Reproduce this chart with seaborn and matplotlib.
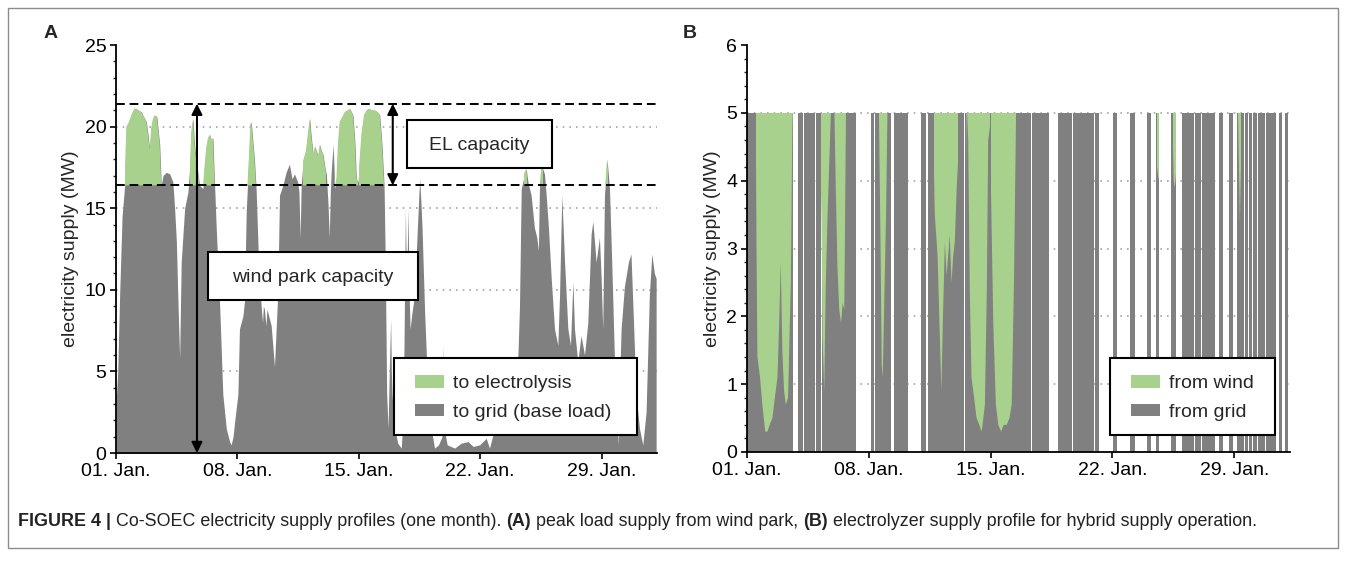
import numpy as np
import pandas as pd
import matplotlib
matplotlib.use("Agg")
import matplotlib.pyplot as plt
import seaborn as sns
from matplotlib.patches import Rectangle, Patch
from matplotlib.path import Path
from matplotlib.ticker import MultipleLocator, FixedLocator

# ---------------- data ----------------
# wind park output, panel A (day since 01. Jan 00:00, MW)
wind_day = [0.00, 0.10, 0.21, 0.35, 0.50, 0.55, 0.60, 0.75, 0.88, 1.05, 1.17, 1.30, 1.46, 1.60, 1.75,
            1.85, 1.94, 2.03, 2.13, 2.23, 2.36, 2.45, 2.52, 2.61, 2.71, 2.90, 3.10, 3.28, 3.38, 3.48,
            3.58, 3.67, 3.76, 3.96, 4.15, 4.28, 4.34, 4.44, 4.52, 4.63, 4.82, 5.01, 5.10, 5.20, 5.30,
            5.40, 5.50, 5.59, 5.68, 5.78, 5.97, 6.16, 6.36, 6.55, 6.64, 6.75, 6.84, 7.03, 7.12, 7.32,
            7.41, 7.51, 7.60, 7.68, 7.74, 7.80, 7.90, 7.99, 8.08, 8.22, 8.37, 8.45, 8.50, 8.56, 8.65,
            8.70, 8.76, 8.95, 9.14, 9.33, 9.43, 9.62, 9.81, 10.00, 10.15, 10.29, 10.48, 10.55, 10.62,
            10.68, 10.79, 10.95, 11.08, 11.17, 11.25, 11.37, 11.47, 11.56, 11.65, 11.75, 11.85, 11.94,
            12.05, 12.13, 12.23, 12.30, 12.36, 12.42, 12.52, 12.62, 12.71, 12.80, 12.90, 13.05, 13.19,
            13.35, 13.48, 13.58, 13.67, 13.78, 13.86, 13.96, 14.05, 14.15, 14.30, 14.44, 14.60, 14.75,
            14.92, 15.08, 15.21, 15.34, 15.46, 15.53, 15.61, 15.69, 15.76, 15.84, 15.88, 15.92, 16.07,
            16.25, 16.45, 16.55, 16.61, 16.69, 16.76, 16.84, 16.90, 16.96, 17.07, 17.22, 17.38, 17.51,
            17.58, 17.65, 17.80, 17.99, 18.18, 18.37, 18.60, 18.80, 18.86, 18.92, 19.10, 19.53, 19.90,
            20.30, 20.60, 20.97, 21.16, 21.35, 21.54, 21.83, 22.20, 22.60, 23.00, 23.18, 23.27, 23.37,
            23.50, 23.56, 23.66, 23.76, 23.94, 24.13, 24.27, 24.36, 24.42, 24.52, 24.58, 24.71, 24.81,
            24.94, 25.10, 25.29, 25.48, 25.58, 25.71, 25.80, 25.87, 26.06, 26.21, 26.35, 26.44, 26.63,
            26.82, 27.02, 27.21, 27.40, 27.50, 27.69, 27.88, 27.98, 28.07, 28.17, 28.32, 28.46, 28.59,
            28.75, 28.94, 29.13, 29.32, 29.55, 29.70, 29.86, 29.99, 30.19, 30.38, 30.57, 30.76, 30.90,
            31.05, 31.15]
wind_mw = [3.0, 5.0, 9.7, 14.5, 16.4, 18.5, 20.0, 20.3, 20.7, 21.1, 21.1, 21.0, 20.9, 20.6, 20.3,
           19.5, 18.6, 19.9, 20.5, 20.7, 20.6, 19.6, 18.9, 16.4, 17.0, 17.2, 17.1, 16.6, 15.0, 13.0,
           9.0, 5.8, 11.7, 15.0, 16.0, 18.0, 19.7, 20.5, 19.0, 17.9, 16.4, 16.2, 17.5, 18.7, 19.3,
           19.5, 19.2, 19.3, 16.6, 13.8, 9.3, 3.6, 1.5, 0.7, 0.5, 1.0, 1.9, 3.6, 7.6, 8.4,
           9.3, 14.8, 16.8, 18.5, 20.1, 20.3, 19.0, 17.9, 16.2, 11.7, 9.0, 8.0, 9.0, 8.8, 7.8,
           8.8, 8.6, 7.8, 5.3, 9.8, 15.8, 16.4, 17.2, 17.7, 16.8, 17.1, 16.6, 16.0, 13.2,
           16.4, 17.9, 18.5, 19.7, 20.5, 19.5, 18.3, 18.8, 18.5, 18.2, 18.9, 18.5, 18.3,
           17.5, 17.1, 15.2, 13.2, 16.0, 17.4, 18.9, 16.2, 16.8, 19.0, 20.3, 20.6, 20.9,
           21.0, 21.1, 20.9, 20.7, 19.0, 16.8, 16.6, 18.0, 19.5, 20.7, 21.0, 21.1, 21.0,
           21.0, 20.9, 20.7, 18.9, 16.4, 11.7, 3.6, 1.5, 5.0, 8.2, 5.0, 3.6, 1.5,
           0.6, 0.3, 2.0, 6.6, 15.0, 9.7, 15.0, 10.0, 7.6, 8.6, 9.7, 13.8, 16.8,
           15.5, 13.8, 8.6, 3.6, 1.5, 0.3, 0.5, 1.0, 6.6, 1.5, 0.5, 0.3, 0.6,
           0.7, 0.4, 0.5, 0.7, 0.9, 0.3, 1.5, 2.5, 3.0, 4.5, 6.0, 9.0, 16.2,
           16.8, 17.2, 17.4, 16.6, 15.8, 13.8, 13.2, 12.4, 16.2, 17.4, 17.5, 17.1, 15.8,
           13.8, 10.7, 7.6, 6.6, 9.7, 15.8, 13.5, 11.7, 7.6, 6.6, 10.5, 7.6, 5.6,
           7.2, 6.0, 8.0, 13.4, 14.2, 11.7, 13.2, 10.7, 7.6, 15.8, 18.0, 16.2, 11.7,
           5.6, 0.5, 7.6, 10.2, 11.7, 12.2, 7.6, 3.6, 1.5, 0.5, 2.5, 9.7, 12.2,
           11.0, 10.7]

grid_base_load_mw = 16.4      # lower dashed line: supply to grid
wind_park_capacity_mw = 21.4  # upper dashed line
el_capacity_mw = 5.0          # electrolyzer capacity (panel B)

# periods in which wind surplus is fed to the electrolyzer (green), days
wind_to_el_start = [0.50, 4.26, 4.97, 7.58, 10.76, 12.60, 14.02, 23.55, 24.45, 28.22]
wind_to_el_end = [2.62, 4.93, 5.72, 8.10, 12.13, 13.95, 15.46, 23.70, 24.65, 28.40]

# electrolyzer operating periods, panel B (day since 01. Jan 00:00)
el_on_start = [0.00, 2.94, 3.25, 3.96, 4.30, 4.97, 7.11, 7.34, 8.43, 8.76, 9.98, 10.42, 12.53, 16.35,
               17.86, 18.74, 18.93, 19.79, 19.99, 21.04, 21.98, 22.97, 23.51, 24.37, 25.00, 25.72,
               26.14, 27.14, 27.71, 28.13, 28.60, 28.84, 29.07, 29.36, 29.83, 30.58, 30.90]
el_on_end = [2.66, 3.21, 3.92, 4.26, 4.93, 6.29, 7.30, 8.30, 8.72, 9.25, 10.31, 12.49, 16.31, 17.33,
             18.70, 18.89, 19.75, 19.95, 20.25, 21.25, 22.27, 23.22, 23.70, 24.65, 25.68, 26.10,
             26.90, 27.37, 27.90, 28.57, 28.80, 29.03, 29.32, 29.79, 30.39, 30.73, 31.06]

tick_days = [0, 7, 14, 21, 28]
tick_labels = ["01. Jan.", "08. Jan.", "15. Jan.", "22. Jan.", "29. Jan."]
legend_a = ["to electrolysis", "to grid (base load)"]
legend_b = ["from wind", "from grid"]

# ---------------- style ----------------
GREEN = "#a9d18e"
GRAY = "#808080"
sns.set_theme(style="white")
plt.rcParams["font.family"] = ["Liberation Sans", "DejaVu Sans"]
FS = 14

W, H = 1347, 573
fig = plt.figure(figsize=(W / 100, H / 100), dpi=100)
fig.patch.set_facecolor("white")


def px_axes(l, r, t, b):
    return fig.add_axes([l / W, 1 - b / H, (r - l) / W, (b - t) / H])


def interval_path(starts, ends, top):
    return Path.make_compound_path(*[
        Path([(s, 0), (e, 0), (e, top), (s, top), (s, 0)], closed=True)
        for s, e in zip(starts, ends)])


axA = px_axes(116, 657, 45, 453)
axB = px_axes(747, 1290, 45, 452)

df = pd.DataFrame({"day": wind_day, "mw": wind_mw})
surplus = df["mw"] - grid_base_load_mw

# ----- panel A -----
axA.fill_between(df["day"], 0, df["mw"], color=GRAY, lw=0, zorder=2)
gA = axA.fill_between(df["day"], grid_base_load_mw, df["mw"], where=surplus > 0,
                      interpolate=True, color=GREEN, lw=0, zorder=3)
gA.set_clip_path(interval_path(wind_to_el_start, wind_to_el_end, 25), axA.transData)
for yv in (grid_base_load_mw, wind_park_capacity_mw):
    axA.axhline(yv, color="black", lw=1.4, ls=(0, (4.5, 2.5)), zorder=4)

arrow_kw = dict(arrowstyle="<|-|>", color="black", lw=1.5, mutation_scale=16, shrinkA=0, shrinkB=0)
axA.annotate("", xy=(4.67, 0), xytext=(4.67, wind_park_capacity_mw), arrowprops=arrow_kw, zorder=6)
axA.annotate("", xy=(15.96, grid_base_load_mw), xytext=(15.96, wind_park_capacity_mw),
             arrowprops=arrow_kw, zorder=6)

axA.add_patch(Rectangle((5.3, 9.4), 12.1, 2.9, facecolor="white", edgecolor="black", lw=1.5, zorder=7))
axA.text(11.35, 10.75, "wind park capacity", ha="center", va="center", fontsize=FS, zorder=8)
axA.add_patch(Rectangle((16.76, 17.46), 8.41, 2.94, facecolor="white", edgecolor="black", lw=1.5, zorder=7))
axA.text(20.97, 18.85, "EL capacity", ha="center", va="center", fontsize=FS, zorder=8)

axA.set_ylim(0, 25)
axA.yaxis.set_major_locator(MultipleLocator(5))
axA.yaxis.set_minor_locator(MultipleLocator(1))
gridA = [5, 10, 15, 20]

# ----- panel B -----
widths = [e - s for s, e in zip(el_on_start, el_on_end)]
axB.bar(el_on_start, el_capacity_mw, width=widths, align="edge", color=GRAY, lw=0, zorder=2)
gB = axB.fill_between(df["day"], el_capacity_mw - surplus, el_capacity_mw,
                      where=surplus > 0, interpolate=True, color=GREEN, lw=0, zorder=3)
gB.set_clip_path(interval_path(wind_to_el_start, wind_to_el_end, el_capacity_mw), axB.transData)

axB.set_ylim(0, 6)
axB.yaxis.set_major_locator(MultipleLocator(1))
axB.yaxis.set_minor_locator(MultipleLocator(0.2))
gridB = [1, 2, 3, 4, 5]

for ax, grid in ((axA, gridA), (axB, gridB)):
    ax.set_xlim(0, 31.2)
    ax.xaxis.set_major_locator(FixedLocator(tick_days))
    ax.set_xticklabels(tick_labels)
    for g in grid:
        ax.axhline(g, color="#a6a6a6", lw=1.2, ls=(0, (1, 3)), zorder=1)
    sns.despine(ax=ax)
    for sp in ("left", "bottom"):
        ax.spines[sp].set_color("black")
        ax.spines[sp].set_linewidth(1.3)
    ax.tick_params(axis="both", which="major", direction="out", length=4, width=1.2,
                   labelsize=FS, colors="black", pad=3, left=True, bottom=True)
    ax.tick_params(axis="y", which="minor", direction="out", length=2, width=1.0, left=True)
    ax.set_ylabel("electricity supply (MW)", fontsize=FS, labelpad=4)
    ax.set_facecolor("white")
    ax.set_axisbelow(True)


# legends: frame drawn at the reference position, entries placed inside it
def legend_box(ax, labels, frame_px, content_left_px):
    l, r, t, b = frame_px
    pos = ax.get_position()
    x0, y0 = pos.x0 * W, (1 - pos.y1) * H
    wpx, hpx = pos.width * W, pos.height * H
    fx = lambda p: (p - x0) / wpx
    fy = lambda p: 1 - (p - y0) / hpx
    ax.add_patch(Rectangle((fx(l), fy(b)), fx(r) - fx(l), fy(t) - fy(b), transform=ax.transAxes,
                           facecolor="white", edgecolor="black", lw=1.5, zorder=9, clip_on=False))
    handles = [Patch(facecolor=GREEN, edgecolor="none"), Patch(facecolor=GRAY, edgecolor="none")]
    lg = ax.legend(handles, labels, loc="center left", bbox_to_anchor=(fx(content_left_px), fy(398)),
                   fontsize=FS, frameon=False, borderpad=0, borderaxespad=0, handlelength=1.5,
                   handleheight=0.6, handletextpad=0.46, labelspacing=0.58)
    lg.set_zorder(10)


legend_box(axA, legend_a, (394, 637, 358, 435), 415)
legend_box(axB, legend_b, (1110, 1275, 358, 435), 1131)

fig.text(51 / W, 1 - 33 / H, "A", fontsize=FS, weight="bold", ha="center", va="center")
fig.text(690 / W, 1 - 33 / H, "B", fontsize=FS, weight="bold", ha="center", va="center")

# outer frame
fig.add_artist(Rectangle((8 / W, 1 - 548 / H), (1338 - 8) / W, (548 - 8) / H, transform=fig.transFigure,
                         facecolor="none", edgecolor="#8c8c8c", lw=1.0))

# caption
pieces = [("FIGURE 4 | ", "bold"), ("Co-SOEC electricity supply profiles (one month). ", "normal"),
          ("(A)", "bold"), (" peak load supply from wind park, ", "normal"), ("(B)", "bold"),
          (" electrolyzer supply profile for hybrid supply operation.", "normal")]
renderer = fig.canvas.get_renderer()
x = 18
cap_fs = 12.9
for txt, wt in pieces:
    t = fig.text(x / W, 1 - 526 / H, txt, fontsize=cap_fs, weight=wt,
                 ha="left", va="baseline", color="#222222")
    bb = t.get_window_extent(renderer)
    x += bb.width

fig.savefig("out.png", dpi=100, facecolor="white")
